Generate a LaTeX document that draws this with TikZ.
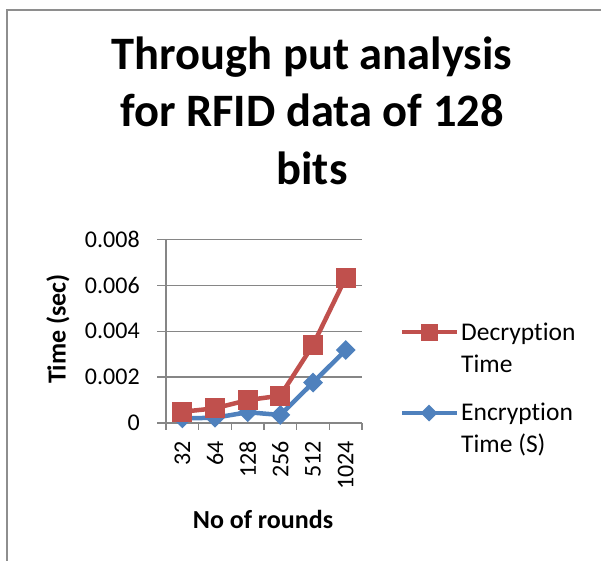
\documentclass[tikz,border=0pt]{standalone}
\usepackage{fontspec}
\setmainfont{Carlito}[Ligatures={NoCommon,NoContextual}]
\definecolor{decred}{HTML}{C0504D}
\definecolor{encblue}{HTML}{4F81BD}
\definecolor{gridgray}{HTML}{868686}
\definecolor{framegray}{HTML}{8E8E8E}

\begin{document}
\begin{tikzpicture}[x=1pt,y=-1pt,
  gridline/.style={gridgray,line width=1.3pt},
  ticklab/.style={inner sep=0pt,font=\fontsize{24}{28}\selectfont},
  axtitle/.style={inner sep=0pt,font=\fontsize{26}{30}\selectfont\bfseries},
  legtext/.style={inner sep=0pt,align=left,font=\fontsize{25.5}{32}\selectfont},
  redline/.style={decred,line width=4.5pt,line join=round},
  blueline/.style={encblue,line width=4.5pt,line join=round},
  redmark/.style={rectangle,fill=decred,minimum size=20pt,inner sep=0pt},
  bluemark/.style={rectangle,rotate=45,fill=encblue,minimum size=14pt,inner sep=0pt}]
\useasboundingbox (0,0) rectangle (601,560);

% Frame
\draw[framegray,line width=2pt] (7,570) -- (7,10) -- (610,10);

% Title
\node[align=center,anchor=base,font=\fontsize{46.5}{57.5}\selectfont\bfseries] (title) at (312,184)
  {Through put analysis\\for RFID data of 128\\bits};

% Plot area
\begin{scope}[shift={(166,423)},x=32.67pt,y=22.95pt]
% Gridlines
\draw[gridline] (-0.27,2) -- (6,2);
\draw[gridline] (-0.27,4) -- (6,4);
\draw[gridline] (-0.27,6) -- (6,6);
\draw[gridline] (-0.27,8) -- (6,8);
% Axes
\draw[gridline] (0,0) -- (0,8);
\draw[gridline] (-0.27,0) -- (6,0);
\draw[gridline] (0,0) -- (0,-0.3);
\draw[gridline] (1,0) -- (1,-0.3);
\draw[gridline] (2,0) -- (2,-0.3);
\draw[gridline] (3,0) -- (3,-0.3);
\draw[gridline] (4,0) -- (4,-0.3);
\draw[gridline] (5,0) -- (5,-0.3);
\draw[gridline] (6,0) -- (6,-0.3);

% Y labels
\node[ticklab,anchor=east] (y0) at (-0.8,0) {0};
\node[ticklab,anchor=east] (y2) at (-0.8,2) {0.002};
\node[ticklab,anchor=east] (y4) at (-0.8,4) {0.004};
\node[ticklab,anchor=east] (y6) at (-0.8,6) {0.006};
\node[ticklab,anchor=east] (y8) at (-0.8,8) {0.008};

% X labels
\node[ticklab,rotate=90,anchor=east] (r32) at (0.5,-0.78) {32};
\node[ticklab,rotate=90,anchor=east] (r64) at (1.5,-0.78) {64};
\node[ticklab,rotate=90,anchor=east] (r128) at (2.5,-0.78) {128};
\node[ticklab,rotate=90,anchor=east] (r256) at (3.5,-0.78) {256};
\node[ticklab,rotate=90,anchor=east] (r512) at (4.5,-0.78) {512};
\node[ticklab,rotate=90,anchor=east] (r1024) at (5.5,-0.78) {1024};

% Encryption series
\coordinate (e1) at (0.5,0.20);
\coordinate (e2) at (1.5,0.23);
\coordinate (e3) at (2.5,0.47);
\coordinate (e4) at (3.5,0.35);
\coordinate (e5) at (4.5,1.76);
\coordinate (e6) at (5.5,3.18);
\draw[blueline] (e1) -- (e2) -- (e3) -- (e4) -- (e5) -- (e6);
\node[bluemark] (em1) at (e1) {};
\node[bluemark] (em2) at (e2) {};
\node[bluemark] (em3) at (e3) {};
\node[bluemark] (em4) at (e4) {};
\node[bluemark] (em5) at (e5) {};
\node[bluemark] (em6) at (e6) {};

% Decryption series
\coordinate (d1) at (0.5,0.49);
\coordinate (d2) at (1.5,0.64);
\coordinate (d3) at (2.5,1.00);
\coordinate (d4) at (3.5,1.19);
\coordinate (d5) at (4.5,3.40);
\coordinate (d6) at (5.5,6.33);
\draw[redline] (d1) -- (d2) -- (d3) -- (d4) -- (d5) -- (d6);
\node[redmark] (dm1) at (d1) {};
\node[redmark] (dm2) at (d2) {};
\node[redmark] (dm3) at (d3) {};
\node[redmark] (dm4) at (d4) {};
\node[redmark] (dm5) at (d5) {};
\node[redmark] (dm6) at (d6) {};
\end{scope}

% Axis titles
\node[axtitle,rotate=90] (ytitle) at (58,329) {Time (sec)};
\node[axtitle] (xtitle) at (263,519) {No of rounds};

% Legend
\draw[redline] (402,332) -- (457,332);
\node[redmark,minimum size=17pt] (dkey) at (429,332) {};
\node[legtext,anchor=base west] (dlab) at (461,372) {Decryption\\Time};
\draw[blueline] (402,413) -- (457,413);
\node[bluemark,minimum size=12pt] (ekey) at (429,413) {};
\node[legtext,anchor=base west] (elab) at (461,452.7) {Encryption\\Time (S)};
\end{tikzpicture}
\end{document}
